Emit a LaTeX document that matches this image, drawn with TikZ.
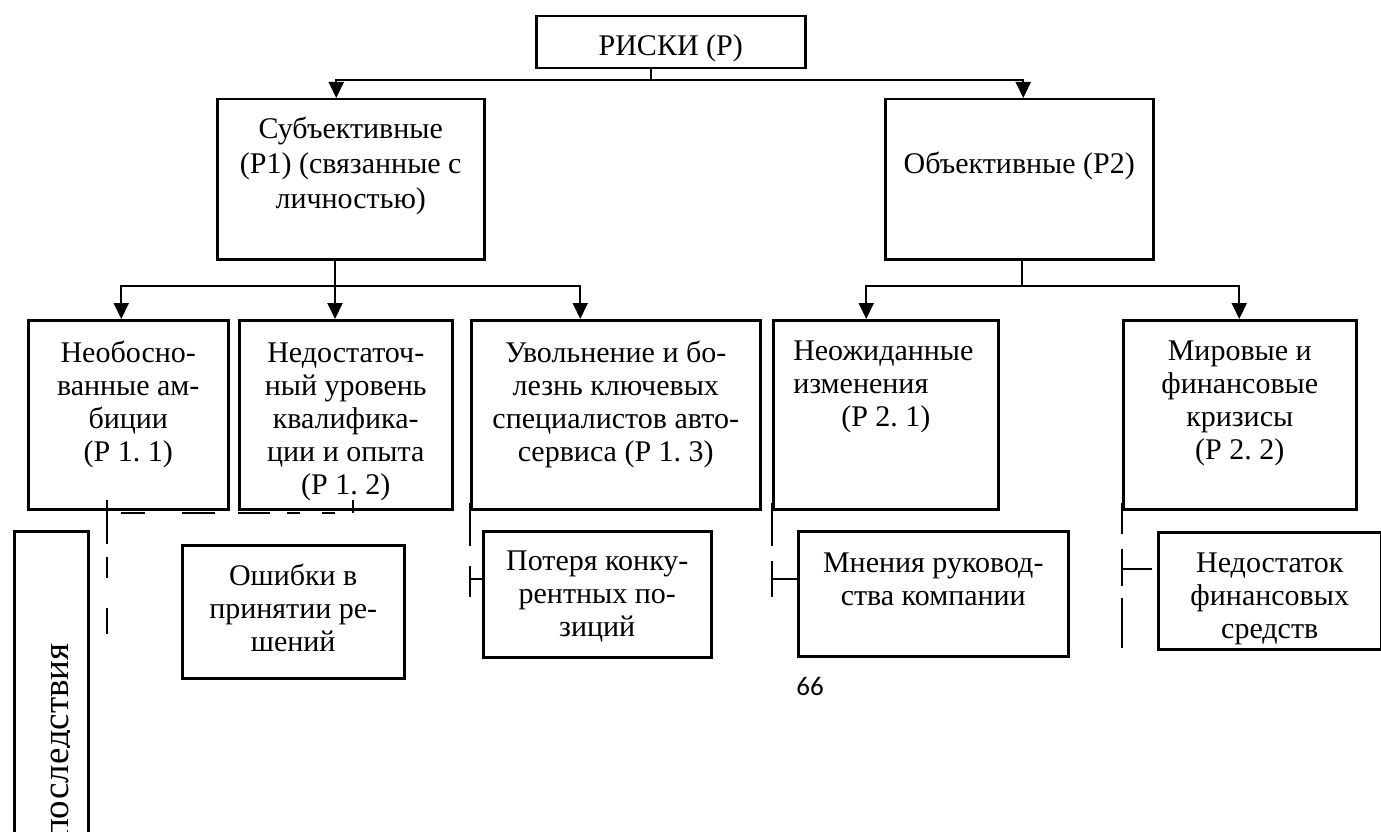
\documentclass[tikz,border=0pt]{standalone}
\usepackage{fontspec}
\setmainfont{Liberation Serif}
\newfontfamily\pagefont{Carlito}
\usetikzlibrary{arrows.meta}
\newcommand{\boxtext}[4]{\parbox[c][#2][t]{#1}{\centering\rule{0pt}{#3}#4}}
\tikzset{
  riskbox/.style={draw, line width=2.5pt, inner sep=0pt, anchor=north west, font=\fontsize{30}{33}\selectfont},
  link/.style={line width=2pt},
  arr/.style={link, -{Triangle[width=15pt,length=16pt]}},
}

\begin{document}
\begin{tikzpicture}[x=1pt, y=-1pt]
    \useasboundingbox (0,0) rectangle (1381,832);

    % Draw nodes
    \node[riskbox] (risk) at (535,15) {\boxtext{269pt}{52pt}{39pt}{РИСКИ (Р)}};
    \node[riskbox] (subj) at (216,98) {\boxtext{267pt}{160pt}{39pt}{Субъективные\\[2pt] (Р1) (связанные с\\[2pt] личностью)}};
    \node[riskbox] (obj) at (884,98) {\boxtext{268pt}{160pt}{74pt}{Объективные (Р2)}};

    \node[riskbox] (p11) at (27,319) {\boxtext{200pt}{189pt}{42pt}{Необосно-\\ ванные ам-\\ биции\\ (Р 1.\ 1)}};
    \node[riskbox] (p12) at (238,319) {\boxtext{213pt}{189pt}{42pt}{Недостаточ-\\ ный уровень\\ квалифика-\\ ции и опыта\\ (Р 1.\ 2)}};
    \node[riskbox] (p13) at (470,319) {\boxtext{289pt}{189pt}{42pt}{Увольнение и бо-\\ лезнь ключевых\\ специалистов авто-\\ сервиса (Р 1.\ 3)}};
    \node[riskbox] (p21) at (772,319) {\boxtext{225pt}{189pt}{40pt}{\raggedright\hspace*{20pt}Неожиданные\\ \hspace*{20pt}изменения\\ \hspace*{68pt}(Р 2.\ 1)}};
    \node[riskbox] (p22) at (1122,319) {\boxtext{233pt}{189pt}{40pt}{Мировые и\\ финансовые\\ кризисы\\ (Р 2.\ 2)}};

    \node[riskbox] (c1) at (181,544) {\boxtext{222pt}{133pt}{40pt}{Ошибки в\\ принятии ре-\\ шений}};
    \node[riskbox] (c3) at (482,530) {\boxtext{228pt}{126pt}{39pt}{Потеря конку-\\ рентных по-\\ зиций}};
    \node[riskbox] (c4) at (797,530) {\boxtext{270pt}{125pt}{41pt}{Мнения руковод-\\ ства компании}};
    \node[riskbox] (c5) at (1157,531) {\boxtext{223pt}{117pt}{40pt}{Недостаток\\ финансовых\\ средств}};

    \node[riskbox, minimum width=74pt, minimum height=370pt] (cons) at (13,530) {};
    \begin{scope}
        \clip (13,530) rectangle (69,832);
        \node[rotate=90, anchor=base east, inner sep=0pt, font=\fontsize{37}{40}\selectfont] (constext) at (68,643) {последствия};
    \end{scope}

    \node[font=\pagefont\fontsize{27}{30}\selectfont] (pagenum) at (810,686) {66};

    % Draw connections
    \coordinate (topfork) at (651,80);
    \draw[link] (topfork |- risk.south) -- (topfork);
    \draw[arr] (topfork) -| ([xshift=-14.5pt]subj.north);
    \draw[arr] (topfork) -| ([xshift=4pt]obj.north);

    \coordinate (subjfork) at (335,286);
    \draw[link] (subjfork |- subj.south) -- (subjfork);
    \draw[arr] (subjfork) -| ([xshift=-7pt]p11.north);
    \draw[arr] (subjfork) -- (subjfork |- p12.north);
    \draw[arr] (subjfork) -| ([xshift=-35.5pt]p13.north);

    \coordinate (objfork) at (1022,286);
    \draw[link] (objfork |- obj.south) -- (objfork);
    \draw[arr] (objfork) -| ([xshift=-19.5pt]p21.north);
    \draw[arr] (objfork) -| ([xshift=-0.5pt]p22.north);

    % Broken lines under the boxes
    \coordinate (p11drop) at (107,500);
    \coordinate (p11elbow) at (107,513);
    \coordinate (p12elbow) at (353,513);
    \coordinate (p12tick) at (353,500);
    \draw[link, dash pattern=on 44pt off 13pt on 21pt off 30pt on 26pt off 100pt] (p11drop) -- ++(0,134);
    \draw[link, dash pattern=on 0pt off 14pt on 24pt off 37pt on 33pt off 23pt on 32pt off 17pt on 13pt off 22pt on 13pt off 18pt] (p11elbow) -- (p12elbow);
    \draw[link] (p12elbow) -- (p12tick);

    \draw[link, dash pattern=on 43pt off 20pt on 31pt off 100pt] ([yshift=8pt]p13.south west) -- ++(0,94);
    \draw[link] ([yshift=15pt]c3.west) -- ++(-12,0);

    \draw[link, dash pattern=on 43pt off 15pt on 36pt off 100pt] ([yshift=8pt]p21.south west) -- ++(0,94);
    \draw[link] ([yshift=14.5pt]c4.west) -- ++(-25,0);

    \draw[link, dash pattern=on 31pt off 15pt on 37pt off 12pt on 50pt off 100pt] ([yshift=8pt]p22.south west) -- ++(0,145);
    \draw[link] ([xshift=-5pt,yshift=21.5pt]c5.west) -- ++(-30,0);
\end{tikzpicture}
\end{document}
